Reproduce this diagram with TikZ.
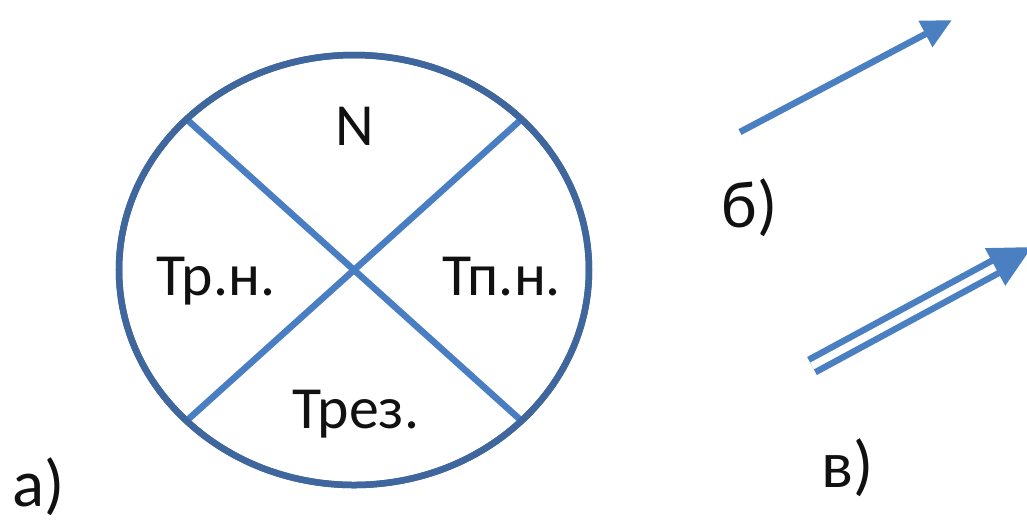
\documentclass[tikz,border=0pt]{standalone}
\usepackage{fontspec}
\setmainfont{Carlito}
\usepackage{tikz}
\usetikzlibrary{shapes.geometric, arrows.meta, positioning, calc}
\usepackage{xcolor}
\definecolor{RimBlue}{HTML}{3F679E}
\definecolor{CrossBlue}{HTML}{4A7EC2}
\definecolor{ArrowBlue}{HTML}{4A7FC1}
\definecolor{Ink}{HTML}{111111}

\begin{document}
\begin{tikzpicture}[
            rim/.style={ellipse, draw=RimBlue, line width=0.065cm, minimum width=4.7cm, minimum height=4.3cm, outer sep=0pt, inner sep=0pt},
            cross/.style={draw=CrossBlue, line width=0.065cm},
            sector/.style={anchor=base, inner sep=0pt, text=Ink, font=\fontsize{17}{20}\selectfont},
            tag/.style={anchor=base west, inner sep=0pt, text=Ink, font=\fontsize{19}{22}\selectfont},
            vec/.style={draw=ArrowBlue, line width=0.065cm, -{Triangle[length=0.3cm, width=0.28cm]}},
            dblvec/.style={draw=ArrowBlue, line width=0.065cm, double=white, double distance=0.075cm, -{Triangle[length=0.42cm, width=0.41cm]}}
        ]
            \useasboundingbox (0,0) rectangle (10.27,5.21);
            \clip (0,0) rectangle (10.27,5.21);

            % Disk a)
            \node[rim] (disk) at (3.54,2.51) {};
            \draw[cross] (disk.138) -- (disk.-42);
            \draw[cross] (disk.42) -- (disk.222);
            \node[rim] at (disk.center) {};

            % Sectors
            \node[sector] (n) at (3.55,3.76) {N};
            \node[sector] (trn) at (2.16,2.26) {Тр.н.};
            \node[sector] (tpn) at (5.02,2.26) {Тп.н.};
            \node[sector] (trez) at (3.56,0.93) {Трез.};

            % Captions
            \node[tag] (capa) at (0.12,0.15) {а)};
            \node[tag] (capb) at (7.21,2.94) {б)};
            \node[tag] (capv) at (8.21,0.34) {в)};

            % Vectors
            \coordinate (b0) at (7.40,3.89);
            \coordinate (b1) at (9.52,5.01);
            \draw[vec] (b0) -- (b1);
            \coordinate (v0) at (8.12,1.55);
            \coordinate (v1) at (10.32,2.74);
            \draw[dblvec] (v0) -- (v1);
        \end{tikzpicture}
\end{document}
